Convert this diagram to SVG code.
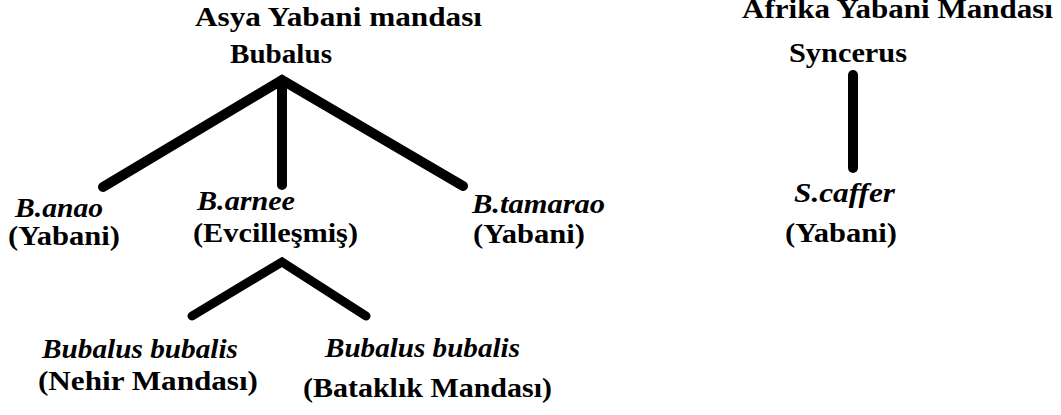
<svg xmlns="http://www.w3.org/2000/svg" width="1061" height="415" viewBox="0 0 1061 415" font-family="Liberation Serif, Times New Roman, Times, Tinos, DejaVu Serif, Noto Serif, serif">
<style>
text{font-size:28px;font-weight:bold;fill:#000}
.i{font-style:italic}
.c{fill:none;stroke:#000;stroke-linecap:round;stroke-linejoin:miter}
</style>
<rect width="1061" height="415" fill="#fff"/>
<g id="connectors">
<path class="c" stroke-width="10" d="M103,187 L282,80 L463,186 M282,80 V185"/>
<path class="c" stroke-width="9" d="M192,316 L282,262 L366,316"/>
<path class="c" stroke-width="10" d="M853,75 V168"/>
</g>
<g id="asya">
<text x="195" y="26" textLength="287" lengthAdjust="spacingAndGlyphs">Asya Yabani mandası</text>
<text x="230" y="63" textLength="102" lengthAdjust="spacingAndGlyphs">Bubalus</text>
</g>
<g id="afrika">
<text x="742" y="18" textLength="311" lengthAdjust="spacingAndGlyphs">Afrika Yabani Mandası</text>
<text x="789" y="62" textLength="118" lengthAdjust="spacingAndGlyphs">Syncerus</text>
</g>
<g id="anao">
<text class="i" x="15" y="217" textLength="88" lengthAdjust="spacingAndGlyphs">B.anao</text>
<text x="8" y="245" textLength="112" lengthAdjust="spacingAndGlyphs">(Yabani)</text>
</g>
<g id="arnee">
<text class="i" x="197" y="210" textLength="98" lengthAdjust="spacingAndGlyphs">B.arnee</text>
<text x="193" y="242" textLength="165" lengthAdjust="spacingAndGlyphs">(Evcilleşmiş)</text>
</g>
<g id="tamarao">
<text class="i" x="472" y="213" textLength="133" lengthAdjust="spacingAndGlyphs">B.tamarao</text>
<text x="473" y="243" textLength="112" lengthAdjust="spacingAndGlyphs">(Yabani)</text>
</g>
<g id="caffer">
<text class="i" x="794" y="202" textLength="101" lengthAdjust="spacingAndGlyphs">S.caffer</text>
<text x="785" y="242" textLength="112" lengthAdjust="spacingAndGlyphs">(Yabani)</text>
</g>
<g id="nehir">
<text class="i" x="42" y="358" textLength="196" lengthAdjust="spacingAndGlyphs">Bubalus bubalis</text>
<text x="38" y="390" textLength="220" lengthAdjust="spacingAndGlyphs">(Nehir Mandası)</text>
</g>
<g id="bataklik">
<text class="i" x="325" y="357" textLength="195" lengthAdjust="spacingAndGlyphs">Bubalus bubalis</text>
<text x="303" y="397" textLength="249" lengthAdjust="spacingAndGlyphs">(Bataklık Mandası)</text>
</g>
</svg>
